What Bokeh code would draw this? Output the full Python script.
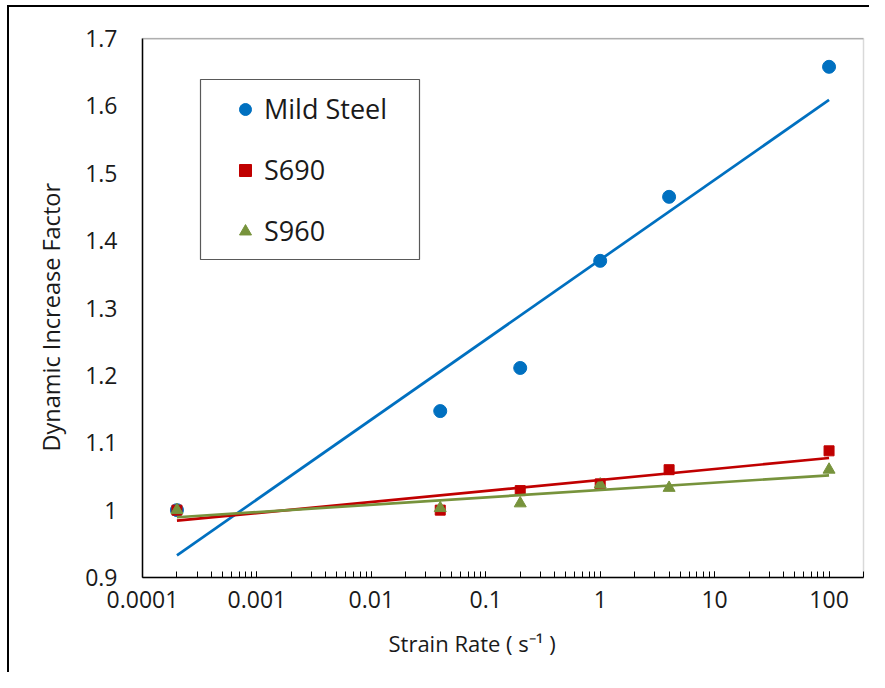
import numpy as np
from bokeh.plotting import figure
from bokeh.models import (Range1d, FixedTicker, CustomJSTickFormatter, Legend,
                          LegendItem, Span, BoxAnnotation, Title)
from bokeh.embed import file_html
from bokeh.resources import INLINE

# ---- data ----
strain_rate = [0.0002, 0.04, 0.2, 1, 4, 100]
mild_steel = [1.0, 1.147, 1.211, 1.370, 1.465, 1.658]
s690 = [1.0, 1.0, 1.029, 1.039, 1.060, 1.088]
s960 = [1.0, 1.003, 1.010, 1.038, 1.033, 1.060]

series_names = ["Mild Steel", "S690", "S960"]
series_colors = ["#0070C0", "#C00000", "#77933C"]

x_major_ticks = [0.0001, 0.001, 0.01, 0.1, 1, 10, 100]
x_minor_ticks = [m * 10.0 ** e for e in range(-4, 3) for m in range(2, 11)]
y_ticks = [0.9, 1.0, 1.1, 1.2, 1.3, 1.4, 1.5, 1.6, 1.7]

x_title = "Strain Rate ( s\u207b\u00b9 )"
y_title = "Dynamic Increase Factor"

FONT = "Open Sans"
TXT = "#1a1a1a"

p = figure(width=869, height=672, x_axis_type="log",
           x_range=Range1d(0.0001, 200), y_range=Range1d(0.9, 1.7),
           output_backend="svg", toolbar_location=None,
           min_border_left=142, min_border_top=38, min_border_right=6,
           min_border_bottom=94)
# outer chart-area frame (left and top edges visible in the reference)
p.styles = {"background": "linear-gradient(#000, #000) 7px 5px / 2px 100% no-repeat, "
                          "linear-gradient(#000, #000) 7px 5px / 100% 2px no-repeat, #fff"}

p.grid.visible = False
p.outline_line_color = "#d9d9d9"
p.outline_line_width = 1.5
p.background_fill_color = "white"
p.border_fill_color = None

# x axis
xa = p.xaxis[0]
xa.ticker = FixedTicker(ticks=x_major_ticks, minor_ticks=x_minor_ticks)
xa.formatter = CustomJSTickFormatter(code="return tick.toString();")
xa.major_tick_in = 6
xa.major_tick_out = 0
xa.minor_tick_in = 6
xa.minor_tick_out = 0
xa.major_tick_line_color = "black"
xa.minor_tick_line_color = "black"
xa.axis_line_color = "black"
xa.axis_line_width = 1.5
xa.major_label_text_font = FONT
xa.major_label_text_font_size = "23px"
xa.major_label_text_color = TXT
xa.major_label_standoff = 13

# y axis
ya = p.yaxis[0]
ya.ticker = FixedTicker(ticks=y_ticks)
ya.formatter = CustomJSTickFormatter(code="return (Math.round(tick*10)/10).toString();")
ya.major_tick_in = 0
ya.major_tick_out = 0
ya.minor_tick_line_color = None
ya.axis_line_color = "black"
ya.axis_line_width = 1.5
ya.major_label_text_font = FONT
ya.major_label_text_font_size = "23px"
ya.major_label_text_color = TXT
ya.major_label_standoff = 25

# axis titles, offset along the frame like in the source chart
p.add_layout(Title(text=x_title, align="left", offset=246, standoff=30,
                   text_font=FONT, text_font_size="22px", text_font_style="normal",
                   text_color=TXT), "below")
p.add_layout(Title(text=y_title, align="left", offset=126, standoff=32,
                   text_font=FONT, text_font_size="23.5px", text_font_style="normal",
                   text_color=TXT), "left")

p.add_layout(Span(location=1.7, dimension="width", line_color="#868686", line_width=1.5))

# markers
r_ms = p.scatter(strain_rate, mild_steel, marker="circle", size=13,
                 fill_color=series_colors[0], line_color=series_colors[0])
r_690 = p.scatter(strain_rate, s690, marker="square", size=10,
                  fill_color=series_colors[1], line_color=series_colors[1])
r_960 = p.scatter(strain_rate, s960, marker="triangle", size=12,
                  fill_color=series_colors[2], line_color=series_colors[2])

# logarithmic trendlines (least-squares fit, as in the source chart)
xs = np.array(strain_rate, dtype=float)
x_ends = np.array([xs.min(), xs.max()])
for ys, col in zip([mild_steel, s690, s960], series_colors):
    k, b = np.polyfit(np.log10(xs), np.array(ys), 1)
    p.line(x_ends, k * np.log10(x_ends) + b, line_color=col, line_width=2.7)

# legend frame
p.add_layout(BoxAnnotation(left=58, right=277, bottom=318, top=498,
                           left_units="screen", right_units="screen",
                           bottom_units="screen", top_units="screen",
                           fill_color="white", fill_alpha=1.0,
                           line_color="#595959", line_width=1.2, line_alpha=1.0))

legend = Legend(items=[LegendItem(label=series_names[0], renderers=[r_ms]),
                       LegendItem(label=series_names[1], renderers=[r_690]),
                       LegendItem(label=series_names[2], renderers=[r_960])],
                location=(84, 328))
legend.glyph_width = 38
legend.glyph_height = 30
legend.label_height = 30
legend.label_standoff = 0
legend.spacing = 24
legend.padding = 0
legend.margin = 0
legend.border_line_color = None
legend.background_fill_alpha = 0
legend.label_text_font = FONT
legend.label_text_font_size = "27px"
legend.label_text_color = TXT
legend.label_text_baseline = "middle"
p.add_layout(legend, "center")

open("out.html", "w").write(file_html(p, INLINE))
